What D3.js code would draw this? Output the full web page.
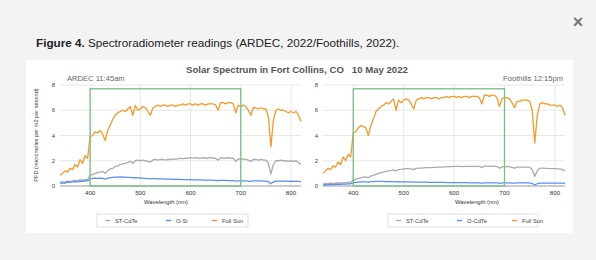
<!DOCTYPE html>
<html>
<head>
<meta charset="utf-8">
<script src="https://cdn.jsdelivr.net/npm/d3@7"></script>
<style>
  body { margin: 0; background: #f3f3f3; }
  svg { display: block; font-family: "Liberation Sans", Arial, sans-serif; }
</style>
</head>
<body>
<svg id="fig" width="596" height="260"></svg>
<script>
// wavelengths (nm), shared by all series
const wavelengths = [340, 345, 350, 355, 360, 365, 370, 375, 380, 385, 390, 395,
  400, 405, 410, 415, 420, 425, 430, 435, 440, 445, 450, 455, 460, 465, 470, 475,
  480, 485, 490, 495, 500, 505, 510, 515, 520, 525, 530, 535, 540, 545, 550, 555,
  560, 565, 570, 575, 580, 585, 590, 595, 600, 605, 610, 615, 620, 625, 630, 635,
  640, 645, 650, 655, 660, 665, 670, 675, 680, 685, 690, 695, 700, 705, 710, 715,
  720, 725, 730, 735, 740, 745, 750, 755, 760, 765, 770, 775, 780, 785, 790, 795,
  800, 805, 810, 815, 820];

// ARDEC 11:45am
const ardecFullSun = [0.85, 1.0, 1.2, 1.1, 1.4, 1.3, 1.7, 1.5, 2.1, 1.8, 2.4, 2.2,
  3.9, 4.0, 4.3, 4.2, 4.4, 4.1, 3.6, 4.4, 4.8, 5.3, 5.6, 5.8, 5.9, 6.0, 5.9, 6.1,
  6.3, 5.6, 6.4, 6.0, 6.1, 6.3, 6.2, 5.9, 5.6, 6.2, 6.3, 6.4, 6.3, 6.4, 6.4, 6.3,
  6.4, 6.4, 6.3, 6.4, 6.4, 6.5, 6.4, 6.5, 6.5, 6.4, 6.5, 6.4, 6.5, 6.5, 6.4, 6.5,
  6.5, 6.5, 6.4, 6.0, 6.6, 6.6, 6.5, 6.6, 6.6, 6.5, 5.8, 6.4, 6.3, 6.4, 6.3, 6.0,
  5.6, 6.2, 6.2, 6.1, 6.2, 6.1, 6.1, 5.5, 3.1, 5.2, 6.0, 6.1, 6.0, 6.0, 5.9, 5.8,
  5.9, 5.8, 5.9, 5.6, 5.1];
const ardecStCdTe = [0.3, 0.35, 0.3, 0.4, 0.35, 0.4, 0.45, 0.4, 0.5, 0.45, 0.5, 0.5,
  0.85, 0.9, 1.0, 1.05, 1.1, 1.15, 1.0, 1.2, 1.35, 1.4, 1.55, 1.6, 1.7, 1.75, 1.8, 1.85,
  1.95, 1.8, 2.0, 2.05, 2.0, 2.05, 2.0, 1.95, 1.9, 2.05, 2.1, 2.05, 2.1, 2.1, 2.05, 2.1,
  2.1, 2.15, 2.1, 2.15, 2.2, 2.15, 2.2, 2.2, 2.25, 2.2, 2.25, 2.2, 2.2, 2.25, 2.2, 2.2,
  2.25, 2.2, 2.2, 2.05, 2.25, 2.2, 2.2, 2.25, 2.2, 2.2, 1.95, 2.15, 2.1, 2.15, 2.1, 2.05,
  1.95, 2.1, 2.1, 2.05, 2.1, 2.05, 2.05, 1.8, 0.95, 1.7, 2.0, 2.0, 2.05, 2.0, 2.0, 1.95,
  2.0, 1.95, 2.0, 1.85, 1.7];
const ardecOSi = [0.2, 0.25, 0.22, 0.3, 0.28, 0.32, 0.35, 0.33, 0.38, 0.36, 0.42, 0.4,
  0.55, 0.6, 0.62, 0.6, 0.63, 0.6, 0.55, 0.62, 0.66, 0.68, 0.7, 0.7, 0.72, 0.7, 0.7, 0.69,
  0.68, 0.64, 0.66, 0.64, 0.62, 0.62, 0.6, 0.58, 0.57, 0.58, 0.58, 0.57, 0.56, 0.56, 0.55, 0.54,
  0.54, 0.53, 0.53, 0.52, 0.52, 0.51, 0.5, 0.5, 0.5, 0.49, 0.49, 0.48, 0.48, 0.47, 0.47, 0.46,
  0.46, 0.45, 0.45, 0.42, 0.45, 0.44, 0.44, 0.43, 0.43, 0.42, 0.38, 0.41, 0.41, 0.41, 0.4, 0.39,
  0.37, 0.4, 0.4, 0.4, 0.4, 0.39, 0.39, 0.35, 0.18, 0.32, 0.38, 0.38, 0.39, 0.38, 0.38, 0.37,
  0.38, 0.37, 0.37, 0.36, 0.34];

// Foothills 12:15pm
const foothillsFullSun = [1.0, 1.2, 1.4, 1.3, 1.6, 1.5, 1.9, 1.7, 2.3, 2.0, 2.5, 2.3,
  4.2, 4.3, 4.6, 4.8, 4.7, 4.6, 4.0, 4.8, 5.3, 5.9, 6.1, 6.3, 6.4, 6.6, 6.5, 6.7,
  6.9, 6.0, 6.8, 6.6, 6.8, 6.9, 6.8, 6.5, 6.1, 6.8, 6.9, 7.0, 6.9, 7.0, 7.0, 6.9,
  7.0, 7.0, 6.9, 7.0, 7.0, 7.1, 7.0, 7.1, 7.1, 7.0, 7.1, 7.0, 7.1, 7.1, 7.0, 7.1,
  7.1, 7.1, 7.0, 6.5, 7.2, 7.2, 7.1, 7.2, 7.2, 7.0, 6.3, 6.9, 7.0, 7.0, 6.9, 6.6,
  6.2, 6.7, 6.7, 6.8, 6.8, 6.8, 6.7, 6.0, 3.4, 5.6, 6.5, 6.6, 6.5, 6.5, 6.4, 6.4,
  6.4, 6.3, 6.4, 6.2, 5.6];
const foothillsStCdTe = [0.15, 0.2, 0.18, 0.22, 0.2, 0.22, 0.24, 0.22, 0.26, 0.25, 0.28, 0.3,
  0.45, 0.55, 0.6, 0.65, 0.7, 0.72, 0.65, 0.78, 0.85, 0.92, 1.0, 1.05, 1.1, 1.15, 1.2, 1.22,
  1.28, 1.2, 1.3, 1.32, 1.35, 1.38, 1.38, 1.35, 1.3, 1.4, 1.42, 1.42, 1.44, 1.45, 1.45, 1.46,
  1.48, 1.48, 1.5, 1.5, 1.52, 1.52, 1.53, 1.54, 1.55, 1.55, 1.55, 1.54, 1.55, 1.56, 1.55, 1.56,
  1.56, 1.55, 1.55, 1.45, 1.57, 1.57, 1.56, 1.57, 1.56, 1.55, 1.4, 1.52, 1.53, 1.53, 1.52, 1.48,
  1.42, 1.5, 1.5, 1.5, 1.5, 1.49, 1.48, 1.3, 0.75, 1.2, 1.42, 1.42, 1.4, 1.4, 1.38, 1.38,
  1.38, 1.36, 1.36, 1.3, 1.2];
const foothillsOCdTe = [0.08, 0.1, 0.09, 0.12, 0.11, 0.13, 0.14, 0.13, 0.15, 0.15, 0.17, 0.18,
  0.25, 0.28, 0.3, 0.32, 0.33, 0.33, 0.3, 0.34, 0.35, 0.36, 0.36, 0.36, 0.36, 0.35, 0.35, 0.35,
  0.34, 0.32, 0.34, 0.33, 0.33, 0.32, 0.32, 0.31, 0.3, 0.31, 0.31, 0.3, 0.3, 0.3, 0.29, 0.29,
  0.29, 0.28, 0.28, 0.28, 0.28, 0.27, 0.27, 0.27, 0.27, 0.26, 0.26, 0.26, 0.26, 0.26, 0.25, 0.25,
  0.25, 0.25, 0.25, 0.23, 0.25, 0.25, 0.25, 0.25, 0.25, 0.24, 0.21, 0.24, 0.24, 0.24, 0.24, 0.23,
  0.22, 0.24, 0.24, 0.24, 0.24, 0.24, 0.23, 0.2, 0.08, 0.18, 0.23, 0.23, 0.23, 0.23, 0.23, 0.22,
  0.23, 0.22, 0.22, 0.22, 0.21];

const xTicks = [400, 500, 600, 700, 800];
const yTicks = [0, 2, 4, 6, 8];
const windowBand = [400, 700];  // green box
const windowTop = 7.7;

const colors = {gray: "#ababab", blue: "#5a8ff0", orange: "#f39a2a"};

const svg = d3.select("#fig");

// white card
svg.append("rect")
  .attr("x", 26).attr("y", 60)
  .attr("width", 547).attr("height", 173)
  .attr("fill", "#fff");

// caption
const caption = svg.append("text")
  .attr("x", 36).attr("y", 47)
  .attr("font-size", 11.7)
  .attr("fill", "#222");
caption.append("tspan").attr("font-weight", "bold").text("Figure 4.");
caption.append("tspan").text(" Spectroradiometer readings (ARDEC, 2022/Foothills, 2022).");

// close button
svg.append("text")
  .attr("x", 578).attr("y", 28)
  .attr("text-anchor", "middle")
  .attr("font-size", 18)
  .attr("font-weight", "bold")
  .attr("fill", "#777")
  .text("\u00d7");

// shared title
svg.append("text")
  .attr("x", 297).attr("y", 73)
  .attr("text-anchor", "middle")
  .attr("font-size", 9.6)
  .attr("font-weight", "bold")
  .attr("fill", "#555")
  .style("white-space", "pre")
  .text("Solar Spectrum in Fort Collins, CO   10 May 2022");

// y axis title
svg.append("text")
  .attr("transform", "translate(38,135) rotate(-90)")
  .attr("text-anchor", "middle")
  .attr("font-size", 5.6)
  .attr("fill", "#333")
  .text("PFD (micromoles per m2 per second)");

function drawPanel(p) {
  const x = d3.scaleLinear().domain([340, 820]).range([p.left, p.right]);
  const y = d3.scaleLinear().domain([0, 8]).range([186, 85]);
  const g = svg.append("g");

  // gridlines
  g.selectAll(".hgrid").data(yTicks.slice(1)).enter().append("line")
    .attr("x1", p.left).attr("x2", p.right)
    .attr("y1", d => y(d)).attr("y2", d => y(d))
    .attr("stroke", "#e2e2e2").attr("stroke-width", 0.8);
  g.selectAll(".vgrid").data(xTicks).enter().append("line")
    .attr("x1", d => x(d)).attr("x2", d => x(d))
    .attr("y1", y(8)).attr("y2", y(0))
    .attr("stroke", "#e2e2e2").attr("stroke-width", 0.8);

  // tick labels
  g.selectAll(".ylab").data(yTicks).enter().append("text")
    .attr("x", p.left - 5).attr("y", d => y(d) + 2)
    .attr("text-anchor", "end")
    .attr("font-size", 6).attr("fill", "#444")
    .text(d => d);
  g.selectAll(".xlab").data(xTicks).enter().append("text")
    .attr("x", d => x(d)).attr("y", 195)
    .attr("text-anchor", "middle")
    .attr("font-size", 6.2).attr("fill", "#333")
    .text(d => d);

  // baseline
  g.append("line")
    .attr("x1", p.left).attr("x2", p.right)
    .attr("y1", y(0)).attr("y2", y(0))
    .attr("stroke", "#bdbdbd").attr("stroke-width", 1.5);

  // series
  const line = d3.line()
    .x((d, i) => x(wavelengths[i]))
    .y(d => y(d));
  p.series.forEach(s => {
    g.append("path")
      .datum(s.values)
      .attr("d", line)
      .attr("fill", "none")
      .attr("stroke", s.color)
      .attr("stroke-width", 1.3)
      .attr("stroke-linejoin", "round");
  });

  // green highlight box
  g.append("rect")
    .attr("x", x(windowBand[0])).attr("y", y(windowTop))
    .attr("width", x(windowBand[1]) - x(windowBand[0]))
    .attr("height", y(0) - y(windowTop))
    .attr("fill", "none")
    .attr("stroke", "#74c083").attr("stroke-width", 1.3);

  // subtitle
  g.append("text")
    .attr("x", p.subX).attr("y", 81)
    .attr("text-anchor", p.subAnchor)
    .attr("font-size", 7.6).attr("fill", "#666")
    .text(p.subtitle);

  // x axis title
  g.append("text")
    .attr("x", p.xTitleX).attr("y", 204)
    .attr("text-anchor", "middle")
    .attr("font-size", 5.8).attr("fill", "#333")
    .text("Wavelength (nm)");

  // legend
  const lg = g.append("g");
  lg.append("rect")
    .attr("x", p.legend.x).attr("y", 214)
    .attr("width", p.legend.w).attr("height", 13)
    .attr("fill", "#fff").attr("stroke", "#d6d6d6").attr("stroke-width", 0.8);
  p.series.forEach((s, i) => {
    const lx = p.legend.items[i];
    lg.append("line")
      .attr("x1", lx).attr("x2", lx + 5)
      .attr("y1", 220.5).attr("y2", 220.5)
      .attr("stroke", s.color).attr("stroke-width", 1.4);
    lg.append("text")
      .attr("x", lx + 10).attr("y", 222.5)
      .attr("font-size", 5.8).attr("fill", "#444")
      .text(s.name);
  });
}

drawPanel({
  left: 60, right: 301,
  subtitle: "ARDEC 11:45am", subX: 67, subAnchor: "start",
  xTitleX: 166,
  legend: {x: 97, w: 151, items: [105, 166, 212]},
  series: [
    {name: "ST-CdTe", values: ardecStCdTe, color: colors.gray},
    {name: "O-Si", values: ardecOSi, color: colors.blue},
    {name: "Full Sun", values: ardecFullSun, color: colors.orange}
  ]
});

drawPanel({
  left: 323, right: 565,
  subtitle: "Foothills 12:15pm", subX: 563, subAnchor: "end",
  xTitleX: 477,
  legend: {x: 388, w: 150, items: [396, 457, 512]},
  series: [
    {name: "ST-CdTe", values: foothillsStCdTe, color: colors.gray},
    {name: "O-CdTe", values: foothillsOCdTe, color: colors.blue},
    {name: "Full Sun", values: foothillsFullSun, color: colors.orange}
  ]
});
</script>
</body>
</html>
